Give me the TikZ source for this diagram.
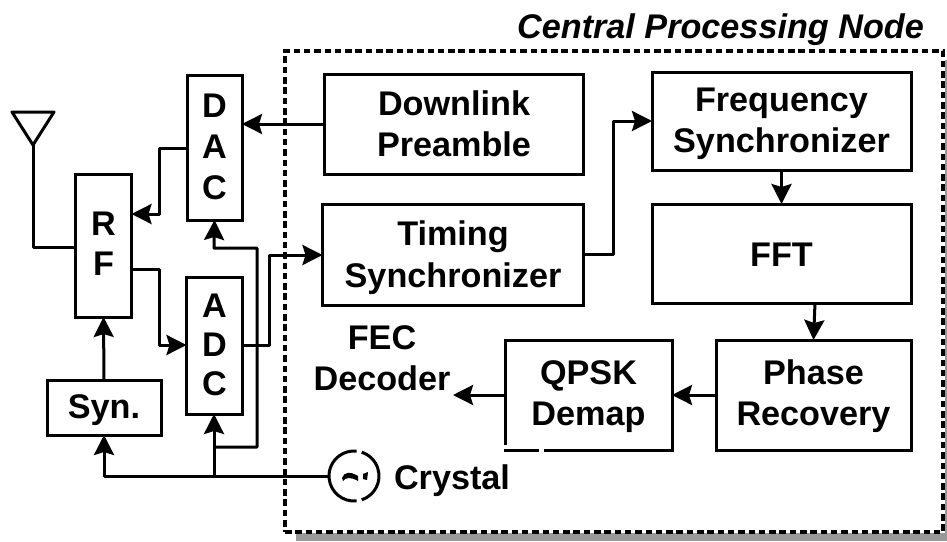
\documentclass[tikz,border=0pt]{standalone}
\usepackage{fontspec}
\setmainfont{Liberation Sans}
\usetikzlibrary{arrows.meta}
\tikzset{
  inset/.style={inner sep=0pt,outer sep=0pt},
  blockbox/.style={draw,line width=3pt,inset},
  conn/.style={line width=3pt,line join=round},
  arr/.style={conn,-{Stealth[length=20pt,width=20pt,inset=3pt]}},
  lbl/.style={inset,align=center,font=\fontsize{34.2}{41}\selectfont\bfseries},
}
% name, centre, width, height, text, space above the text (twice the downward offset), line spacing
\newcommand{\blockat}[7]{\node[blockbox,minimum width=#3 pt,minimum height=#4 pt] (#1) at (#2) {\fontsize{34.2}{#7}\selectfont\bfseries\vbox{\vskip #6pt\hbox{\begin{tabular}{@{}c@{}}#5\end{tabular}}}};}
\begin{document}
\begin{tikzpicture}[x=1pt,y=-1pt]
\useasboundingbox (0,0) rectangle (947,541);
% shadow and dashed frame
\fill[black!40] (296,533) rectangle (947,541);
\fill[black!40] (945,60) rectangle (947,541);
\node[draw,line width=3.2pt,dash pattern=on 6.5pt off 3.8pt,inset,minimum width=658pt,minimum height=481pt] (frame) at (614,291.5) {};
\node[lbl,font=\fontsize{34.2}{37}\selectfont\bfseries\itshape] (title) at (720.5,30) {Central Processing Node};
% blocks
\blockat{dac}{214.5,147.5}{55}{145}{D\\A\\C}{5}{41}
\blockat{rf}{103.5,245.5}{56}{143}{R\\F}{4}{40}
\blockat{adc}{214.5,345.5}{56}{137}{A\\D\\C}{6}{39}
\blockat{syn}{104,407.5}{114}{55}{Syn.}{6}{41}
\blockat{down}{454,124}{259}{100}{Downlink\\Preamble}{8}{41}
\blockat{timing}{453,254.5}{261}{101}{Timing\\Synchronizer}{8}{42}
\blockat{freq}{781.5,121}{259}{98}{Frequency\\Synchronizer}{6}{41}
\blockat{fft}{781.5,253.5}{259}{99}{FFT}{10}{41}
\blockat{phase}{813.5,395}{195}{110}{Phase\\Recovery}{4}{41}
\blockat{qpsk}{588.5,395}{167}{110}{QPSK\\Demap}{4}{41}
% small breaks in the QPSK outline
\fill[white] (502,445) rectangle (508,449);
\fill[white] (539,447) rectangle (544,453);
\node[lbl] (fec) at (382,358) {FEC\\Decoder};
\coordinate (fecin) at (453,395);
% antenna
\coordinate (anttip) at (33,145);
\draw[conn] (12,112) -- (54,112) -- (anttip) -- cycle;
\draw[conn] (anttip) |- (rf.west |- 0,247);
% connectors
\draw[arr] (down.west |- 0,124) -- (dac.east |- 0,124);
\draw[arr] (dac.west |- 0,148) -- (159,148) |- (rf.east |- 0,214);
\draw[arr] (rf.east |- 0,269) -- (159,269) |- (adc.west |- 0,345);
\draw[arr] (adc.east |- 0,345) -- (269,345) |- (timing.west |- 0,255);
\draw[arr] (timing.east |- 0,254) -- (613,254) |- (freq.west |- 0,121);
\draw[arr] (freq.south) -- (fft.north);
\draw[arr] (815,303) -- (813.5,340);
\draw[arr] (phase.west |- 0,395) -- (qpsk.east |- 0,395);
\draw[arr] (qpsk.west |- 0,395) -- (fecin);
\draw[arr] (syn.north) -- (rf.south);
% crystal
\node[inset,minimum size=50pt,circle] (xtal) at (354,476) {};
\draw[line width=3pt] (xtal.center) ++(84:25) arc[start angle=84,end angle=276,radius=25];
\draw[line width=3pt] (xtal.center) ++(72:25) arc[start angle=72,end angle=-72,radius=25];
\fill (342,478) .. controls (344,472) and (350,471) .. (358,476) -- (358,481) .. controls (351,477) and (346,477) .. (343,481) -- cycle;
\fill (363,474) -- (368,472) -- (367,480) -- (363,479) -- cycle;
\node[lbl,anchor=west] (xtallbl) at (394,481) {Crystal};
\draw[arr] (xtal.west) -- (104,476) -- (syn.south);
\draw[arr] (214,476) -- (214,414);
\draw[arr] (214,447) -- (257,447) -- (257,248) -- (214,248) -- (dac.south);
\end{tikzpicture}
\end{document}
